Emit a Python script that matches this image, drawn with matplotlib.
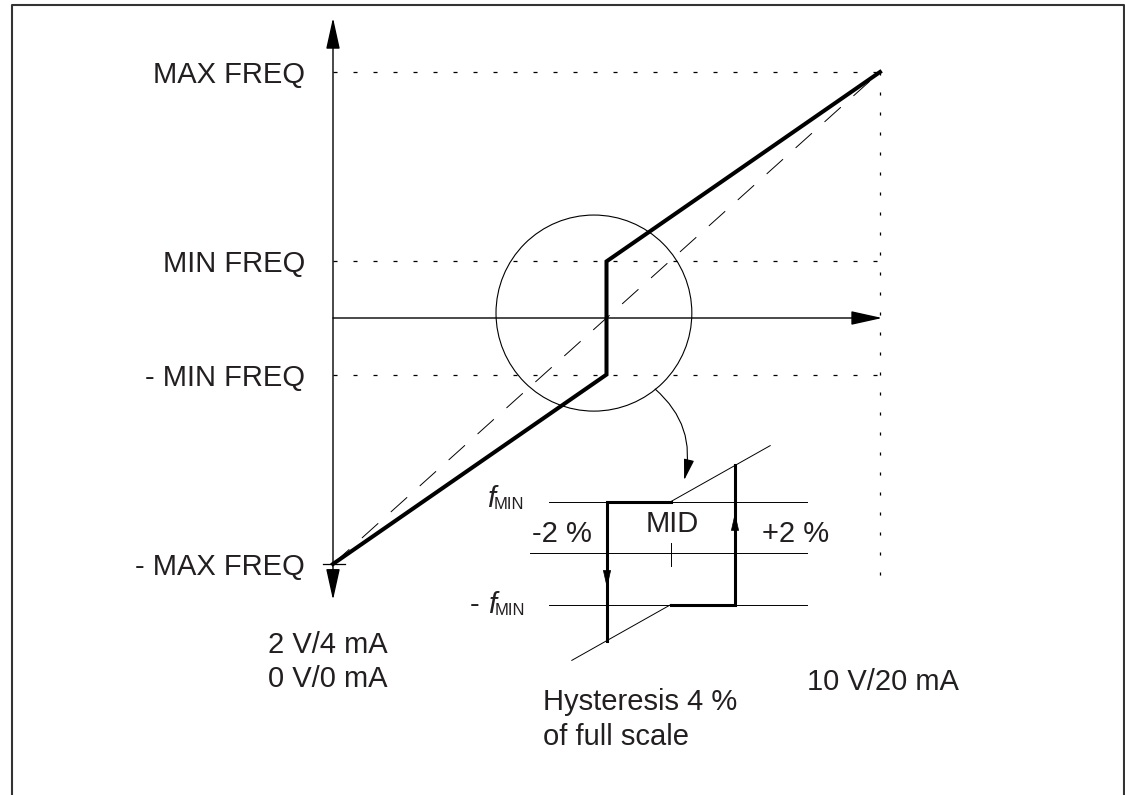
import matplotlib
matplotlib.use('Agg')
import matplotlib.pyplot as plt
from matplotlib.patches import Ellipse, FancyArrowPatch
from matplotlib.lines import Line2D

plt.rcParams['font.family'] = ['Liberation Sans', 'DejaVu Sans']
plt.rcParams['lines.scale_dashes'] = False

# Frequency levels (% of max frequency) and analog input (% of full scale)
max_freq = 100
min_freq = 23
level_labels = ['MAX FREQ', 'MIN FREQ', '- MIN FREQ', '- MAX FREQ']
levels = [max_freq, min_freq, -min_freq, -max_freq]

# Output characteristic with the jump at mid input
curve_x = [0, 50, 50, 100]
curve_y = [-max_freq, -min_freq, min_freq, max_freq]
ideal_x = [0, 100]
ideal_y = [-max_freq, max_freq]

# Hysteresis detail: input in % around MID, output in units of f_MIN
hyst = 2
slope = 0.35
diag_len = 3.1

TXT = '#231f20'
FS = 21

W, H = 1125, 795
fig = plt.figure(figsize=(W / 100, H / 100), dpi=100)


def box(left, top, right, bottom):
    return [left / W, 1 - bottom / H, (right - left) / W, (bottom - top) / H]


# open frame around the drawing
fig.add_artist(Line2D([11.5 / W, 11.5 / W, 1124 / W, 1124 / W],
                      [0, 1 - 5 / H, 1 - 5 / H, 0], lw=1.5, color='#333333'))

# ---- main characteristic ----
ax = fig.add_axes(box(333, 72, 880, 564))
ax.set_xlim(0, 100)
ax.set_ylim(-100, 100)
ax.axis('off')

dotted = (0, (2.9, 11.5))
for lv in levels[:3]:
    ax.plot([0, 100], [lv, lv], color='black', lw=0.9, ls=dotted, clip_on=False)
ax.plot([100, 100], [max_freq, -109], color='black', lw=0.9, ls=(0, (2.2, 12.2)), clip_on=False)

ax.plot(ideal_x, ideal_y, color='black', lw=0.7, ls=(0, (15.8, 12.2)), clip_on=False)
ax.plot(curve_x, curve_y, color='black', lw=2.9, solid_joinstyle='miter', clip_on=False)

# axes with arrow heads
ax.add_patch(FancyArrowPatch((0, 0), (100.4, 0), arrowstyle='-|>,head_length=19.4,head_width=4.3',
                             mutation_scale=1, lw=1.0, color='black', shrinkA=0, shrinkB=0, clip_on=False))
ax.add_patch(FancyArrowPatch((0, -114.6), (0, 122), arrowstyle='<|-|>,head_length=19.4,head_width=4.3',
                             mutation_scale=1, lw=1.0, color='black', shrinkA=0, shrinkB=0, clip_on=False))
ax.plot([-1.8, 2.2], [-max_freq, -max_freq], color='black', lw=0.9, clip_on=False)

ax.add_patch(Ellipse((47.7, 2), 35.8, 79.7, fill=False, lw=0.8, color='black', clip_on=False))
ax.add_patch(FancyArrowPatch((58.9, -28.9), (64.2, -65.9), connectionstyle='arc3,rad=-0.3',
                             arrowstyle='-|>,head_length=13,head_width=3.2', mutation_scale=1,
                             lw=0.8, color='black', shrinkA=0, shrinkB=0, clip_on=False))

for lab, lv in zip(level_labels, levels):
    ax.text(-5.1, lv, lab, ha='right', va='center_baseline', fontsize=FS, color=TXT)
ax.text(-0.9, -136.2, '2 V/4 mA', ha='center', va='baseline', fontsize=FS, color=TXT)
ax.text(-0.9, -150, '0 V/0 mA', ha='center', va='baseline', fontsize=FS, color=TXT)
ax.text(100.5, -151.2, '10 V/20 mA', ha='center', va='baseline', fontsize=FS, color=TXT)

# ---- hysteresis detail ----
ins = fig.add_axes(box(511, 424.25, 831, 681.75))
ins.set_xlim(-5, 5)
ins.set_ylim(-2.5, 2.5)
ins.axis('off')

ins.plot([-3.8, 4.25], [1, 1], color='black', lw=0.7)
ins.plot([-3.8, 4.25], [-1, -1], color='black', lw=0.7)
ins.plot([-4.4, 4.25], [0, 0], color='black', lw=0.7)
ins.plot([0, diag_len], [1, 1 + slope * diag_len], color='black', lw=0.7)
ins.plot([-diag_len, 0], [-1 - slope * diag_len, -1], color='black', lw=0.7)
ins.plot([0, 0], [-0.25, 0.19], color='black', lw=0.7)

ins.plot([0, -hyst, -hyst], [1, 1, -1 - slope * hyst], color='black', lw=2.2, solid_joinstyle='miter')
ins.plot([0, hyst, hyst], [-1, -1, 1 + slope * hyst], color='black', lw=2.2, solid_joinstyle='miter')
ins.annotate('', xy=(-hyst, -0.68), xytext=(-hyst, -0.37),
             arrowprops=dict(arrowstyle='-|>,head_length=11.5,head_width=2.6', mutation_scale=1,
                             lw=0.5, color='black', shrinkA=0, shrinkB=0))
ins.annotate('', xy=(hyst, 0.78), xytext=(hyst, 0.47),
             arrowprops=dict(arrowstyle='-|>,head_length=11.5,head_width=2.6', mutation_scale=1,
                             lw=0.5, color='black', shrinkA=0, shrinkB=0))

ins.text(-5.75, 0.89, 'f', style='italic', fontsize=FS, color=TXT, va='baseline', clip_on=False)
ins.text(-5.53, 0.85, 'MIN', fontsize=12, color=TXT, va='baseline', clip_on=False)
ins.text(-6.28, -1.17, '-', fontsize=FS, color=TXT, va='baseline', clip_on=False)
ins.text(-5.72, -1.17, 'f', style='italic', fontsize=FS, color=TXT, va='baseline', clip_on=False)
ins.text(-5.5, -1.2, 'MIN', fontsize=12, color=TXT, va='baseline', clip_on=False)
ins.text(-4.34, 0.21, '-2 %', fontsize=FS, color=TXT, va='baseline')
ins.text(0.03, 0.41, 'MID', fontsize=FS, color=TXT, ha='center', va='baseline')
ins.text(2.84, 0.21, '+2 %', fontsize=FS, color=TXT, va='baseline')
ins.text(-4.0, -3.05, 'Hysteresis 4 %', fontsize=FS, color=TXT, va='baseline', clip_on=False)
ins.text(-4.0, -3.73, 'of full scale', fontsize=FS, color=TXT, va='baseline', clip_on=False)

fig.savefig('out.png', dpi=100)
